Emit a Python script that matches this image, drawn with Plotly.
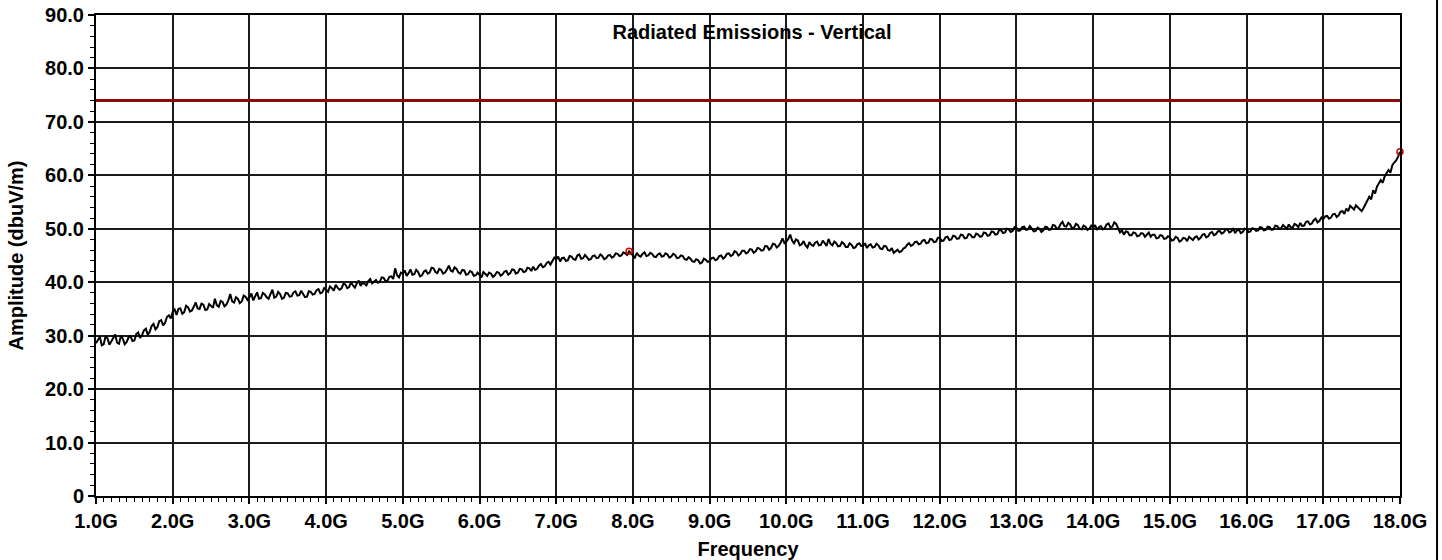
import plotly.graph_objects as go

# Swept peak amplitude, 1.0 GHz to 18.0 GHz in 25 MHz steps (dBuV/m), one row per GHz
sweep_start_ghz = 1.0
sweep_step_ghz = 0.025
amplitude_dbuv = [
    28.6, 29.3, 29.8, 28.2, 28.4, 29.9, 29.5, 28.3, 28.9, 29.6, 30.2, 28.7, 28.5, 30.0, 29.4, 28.4, 28.8, 29.7, 29.9, 29.0,
    29.1, 30.3, 30.6, 29.6, 30.1, 31.0, 31.3, 30.2, 30.7, 31.8, 32.2, 31.2, 31.6, 32.7, 32.9, 31.9, 32.4, 33.5, 33.8, 33.2,
    34.5, 34.9, 33.9, 35.0, 35.1, 34.1, 34.4, 35.6, 35.3, 34.5, 34.7, 35.4, 36.2, 35.1, 35.0, 36.0, 35.8, 34.8, 34.9, 35.9,
    35.6, 35.2, 36.9, 35.7, 35.4, 36.5, 36.3, 35.5, 35.8, 36.6, 37.8, 36.4, 36.2, 37.2, 36.9, 36.1, 36.4, 37.5, 37.3, 36.7,
    37.2, 37.9, 36.6, 37.4, 38.1, 36.9, 37.0, 38.0, 37.7, 37.2, 36.9, 37.8, 38.6, 37.1, 37.3, 38.2, 37.8, 36.9, 37.1, 38.0,
    37.9, 37.3, 37.4, 38.1, 38.3, 37.5, 37.6, 38.4, 37.9, 37.2, 37.3, 38.3, 38.2, 37.7, 37.8, 38.5, 38.7, 37.9, 38.1, 38.9,
    38.6, 38.2, 39.2, 38.9, 38.4, 39.5, 39.0, 38.6, 38.8, 39.7, 39.6, 38.9, 39.1, 40.0, 39.4, 39.0, 39.8, 40.3, 39.3, 39.9,
    39.7, 39.4, 40.2, 40.6, 39.8, 40.1, 40.4, 39.9, 40.1, 40.9, 40.8, 40.2, 40.3, 41.0, 41.1, 40.6, 42.6, 41.3, 40.9, 41.8,
    41.6, 42.2, 41.2, 41.7, 42.4, 41.4, 41.5, 42.3, 41.9, 41.1, 41.3, 42.0, 42.2, 41.6, 41.8, 42.7, 42.6, 41.9, 41.7, 42.5,
    42.3, 41.6, 41.8, 42.4, 43.1, 42.2, 42.0, 42.8, 42.5, 41.8, 41.6, 42.3, 42.2, 41.4, 41.5, 42.1, 41.9, 41.2, 41.3, 41.8,
    41.4, 40.9, 41.9, 41.5, 41.2, 41.8, 41.6, 41.0, 41.3, 41.9, 41.8, 41.2, 41.5, 42.0, 42.1, 41.4, 41.7, 42.4, 42.3, 41.6,
    41.8, 42.5, 42.4, 41.9, 42.0, 42.7, 42.6, 42.1, 42.9, 42.3, 42.5, 43.1, 43.4, 42.8, 43.0, 43.6, 43.8, 43.3, 44.0, 44.6,
    44.3, 44.8, 43.9, 44.5, 44.6, 44.0, 44.1, 44.9, 44.8, 44.3, 44.2, 45.0, 45.2, 44.4, 44.5, 45.1, 44.7, 44.2, 44.3, 44.9,
    45.0, 44.5, 44.6, 45.2, 44.9, 44.3, 44.5, 45.0, 45.1, 44.6, 44.8, 45.4, 45.3, 44.9, 45.0, 45.6, 45.4, 45.1, 45.8, 45.3,
    45.0, 44.6, 45.5, 45.0, 44.8, 45.3, 45.6, 44.9, 45.0, 45.5, 45.3, 44.8, 44.7, 45.2, 45.4, 44.8, 44.9, 45.4, 45.2, 44.6,
    44.8, 45.3, 45.1, 44.5, 44.6, 45.0, 44.9, 44.3, 44.2, 44.7, 44.4, 43.9, 43.8, 44.3, 44.1, 43.5, 43.7, 44.4, 44.2, 43.8,
    44.0, 44.5, 44.6, 44.1, 44.3, 44.9, 45.0, 44.4, 44.7, 45.3, 45.4, 44.9, 45.1, 45.8, 45.6, 45.0, 45.3, 45.9, 45.9, 45.4,
    45.6, 46.2, 46.1, 45.5, 45.8, 46.4, 46.3, 45.9, 46.0, 46.8, 46.7, 46.1, 46.4, 47.2, 47.1, 46.5, 46.8, 47.4, 48.2, 47.3,
    47.6, 48.1, 48.9, 47.8, 47.3, 48.0, 47.8, 46.9, 47.1, 47.7, 46.9, 46.5, 47.5, 47.0, 46.8, 47.4, 47.6, 46.9, 47.0, 47.8,
    47.4, 46.8, 48.1, 47.2, 46.9, 47.6, 47.3, 46.7, 46.8, 47.5, 47.2, 46.6, 46.6, 47.3, 47.0, 46.4, 46.5, 47.1, 47.3, 46.8,
    46.8, 47.3, 46.4, 46.9, 47.1, 46.5, 46.6, 47.2, 46.9, 46.3, 46.2, 46.8, 46.7, 46.0, 45.9, 46.4, 45.5, 45.9, 46.1, 45.6,
    45.8, 46.3, 46.5, 47.0, 47.3, 46.8, 47.0, 47.5, 47.6, 47.1, 47.2, 47.8, 47.9, 47.3, 47.4, 48.1, 48.0, 47.5, 47.6, 48.3,
    48.3, 47.7, 47.8, 48.4, 48.5, 47.9, 48.0, 48.7, 48.6, 48.1, 48.2, 48.9, 48.8, 48.2, 48.3, 49.0, 48.9, 48.4, 48.4, 49.1,
    48.9, 48.5, 48.6, 49.3, 49.2, 48.7, 48.8, 49.5, 49.4, 48.9, 49.0, 49.8, 49.7, 49.2, 49.3, 50.0, 49.9, 49.4, 49.6, 50.3,
    50.2, 49.6, 49.7, 50.3, 50.4, 49.8, 49.9, 50.5, 50.1, 49.5, 49.6, 50.2, 50.0, 49.4, 49.7, 50.4, 50.3, 49.8, 49.9, 50.7,
    50.6, 50.0, 50.1, 50.9, 51.3, 50.5, 50.4, 51.1, 50.8, 50.1, 50.2, 50.9, 50.7, 50.0, 49.9, 50.6, 50.4, 49.8, 50.0, 50.6,
    50.2, 50.7, 49.8, 50.3, 50.5, 49.9, 50.1, 50.8, 51.0, 50.2, 50.4, 51.2, 50.9, 50.1, 49.3, 49.7, 48.9, 49.5, 49.4, 48.8,
    48.8, 49.3, 49.2, 48.6, 48.7, 49.2, 49.1, 48.5, 48.9, 49.3, 48.5, 48.9, 48.9, 48.2, 48.3, 48.8, 48.7, 48.1, 48.2, 48.6,
    48.4, 47.8, 47.9, 48.5, 48.3, 47.6, 47.8, 48.3, 48.2, 47.7, 48.5, 48.1, 47.9, 48.4, 48.6, 48.0, 48.3, 48.9, 49.0, 48.4,
    48.6, 49.2, 49.4, 48.8, 49.0, 49.5, 49.6, 49.1, 49.3, 49.8, 49.9, 49.3, 49.5, 50.1, 49.2, 49.7, 49.8, 49.2, 49.4, 50.0,
    49.9, 49.4, 49.5, 50.1, 50.0, 49.6, 49.7, 50.3, 50.2, 49.7, 49.8, 50.4, 50.3, 49.8, 49.9, 50.6, 50.5, 50.0, 50.1, 50.7,
    50.4, 50.0, 50.8, 50.3, 50.2, 50.9, 50.7, 50.3, 51.1, 50.5, 50.6, 51.3, 51.4, 50.8, 51.0, 51.6, 51.9, 51.2, 51.5, 52.1,
    51.8, 52.3, 52.4, 51.9, 52.1, 52.7, 52.8, 52.2, 52.5, 53.2, 53.3, 52.8, 53.8, 53.3, 54.3, 53.9, 53.6, 54.4, 54.0, 53.5,
    53.3, 53.9, 54.6, 55.1, 56.0, 55.5, 57.2, 56.6, 57.9, 58.5, 59.1, 58.6, 59.8, 60.4, 61.0, 60.5, 61.9, 62.4, 62.8, 63.5,
    64.4,
]
sweep_freq_ghz = [round(sweep_start_ghz + i * sweep_step_ghz, 4) for i in range(len(amplitude_dbuv))]

# Limit line
limit_freq_ghz = [1.0, 18.0]
limit_dbuv = [74.0, 74.0]

# Marked peaks
peak_freq_ghz = [7.95, 18.0]
peak_dbuv = [45.8, 64.4]

# Axis ticks
x_tick_vals = [float(v) for v in range(1, 19)]
x_tick_text = [f"{v:.1f}G" for v in x_tick_vals]
y_tick_vals = [0, 10, 20, 30, 40, 50, 60, 70, 80, 90]
y_tick_text = ["0", "10.0", "20.0", "30.0", "40.0", "50.0", "60.0", "70.0", "80.0", "90.0"]

FONT = "Liberation Sans, Arial, sans-serif"
bold = dict(family=FONT, size=20, color="black", weight="bold")

fig = go.Figure()

fig.add_trace(go.Scatter(
    x=limit_freq_ghz, y=limit_dbuv, mode="lines",
    line=dict(color="#8B0A0A", width=3), hoverinfo="skip", showlegend=False,
))
fig.add_trace(go.Scatter(
    x=sweep_freq_ghz, y=amplitude_dbuv, mode="lines",
    line=dict(color="black", width=2), showlegend=False,
))
fig.add_trace(go.Scatter(
    x=peak_freq_ghz, y=peak_dbuv, mode="markers", cliponaxis=False,
    marker=dict(symbol="circle-open", size=6, color="#D00000", line=dict(width=1.5)),
    showlegend=False,
))

grid_color = "#1a1a1a"

fig.update_layout(
    width=1442, height=560, autosize=False,
    margin=dict(l=96, r=42, t=15, b=64),
    paper_bgcolor="white", plot_bgcolor="white",
    title=dict(
        text="Radiated Emissions - Vertical",
        font=dict(family=FONT, size=20, color="black", weight="bold"),
        x=0.5215, xanchor="center", y=1 - 32 / 560, yanchor="middle",
    ),
    xaxis=dict(
        range=[1.0, 18.0], tickmode="array", tickvals=x_tick_vals, ticktext=x_tick_text,
        tickfont=bold, ticks="outside", ticklen=6, tickwidth=1.5, tickcolor="black",
        showgrid=True, gridcolor=grid_color, gridwidth=1.6, zeroline=False,
        showline=True, linecolor="black", linewidth=2, mirror=True, automargin=False,
        minor=dict(dtick=0.1, tick0=1.0, ticks="outside", ticklen=4, tickwidth=1.2,
                   tickcolor="black", showgrid=False),
        title=dict(text="Frequency", font=bold, standoff=14),
    ),
    yaxis=dict(
        range=[0, 90], tickmode="array", tickvals=y_tick_vals, ticktext=y_tick_text,
        tickfont=bold, ticks="outside", ticklen=6, tickwidth=1.5, tickcolor="black",
        showgrid=True, gridcolor=grid_color, gridwidth=1.6, zeroline=False,
        showline=True, linecolor="black", linewidth=2, mirror=True, automargin=False,
        minor=dict(dtick=2, tick0=0, ticks="outside", ticklen=4, tickwidth=1.2,
                   tickcolor="black", showgrid=False),
        title=dict(text="Amplitude (dbuV/m)", font=bold, standoff=16),
    ),
    # companion axes that carry the inner half of the minor tick marks
    xaxis2=dict(
        overlaying="x", matches="x", anchor="y", side="bottom",
        showticklabels=False, ticks="", showgrid=False, zeroline=False, showline=False,
        minor=dict(dtick=0.1, tick0=1.0, ticks="inside", ticklen=3, tickwidth=1.2,
                   tickcolor="black", showgrid=False),
    ),
    yaxis2=dict(
        overlaying="y", matches="y", anchor="x", side="left",
        showticklabels=False, ticks="", showgrid=False, zeroline=False, showline=False,
        minor=dict(dtick=2, tick0=0, ticks="inside", ticklen=3, tickwidth=1.2,
                   tickcolor="black", showgrid=False),
    ),
    shapes=[dict(
        type="line", xref="paper", yref="paper",
        x0=1.0284, x1=1.0284, y0=-0.2, y1=1.1,
        line=dict(color="black", width=2),
    )],
)

fig.write_html("out.html")
